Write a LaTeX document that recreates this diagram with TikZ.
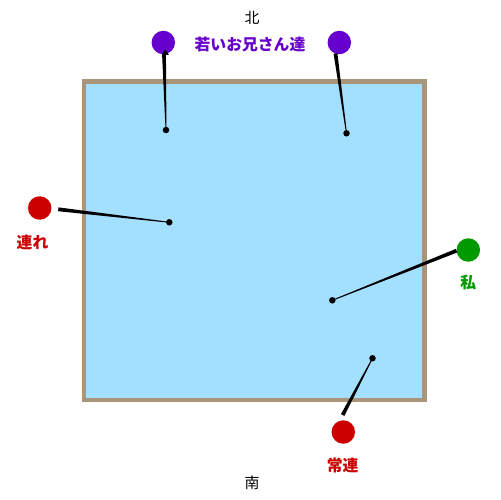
\documentclass[tikz,border=0pt]{standalone}
\usepackage{fontspec}
\newfontfamily\cjk{Noto Sans CJK JP}
\usetikzlibrary{calc}
\definecolor{poolfill}{HTML}{A3DFFF}
\definecolor{poolrim}{HTML}{A8957A}
\definecolor{ppl}{HTML}{6600CC}
\definecolor{rd}{HTML}{CC0000}
\definecolor{gr}{HTML}{009900}
\newcommand\taperline[2]{\fill ($(#1)!1.1pt!90:(#2)$) -- ($(#1)!1.1pt!-90:(#2)$) -- ($(#2)!0.25pt!90:(#1)$) -- ($(#2)!0.25pt!-90:(#1)$) -- cycle;}
\begin{document}
\begin{tikzpicture}[x=0.02cm,y=-0.02cm,
  person/.style={circle,fill=#1,inner sep=0pt,minimum size=0.47cm},
  spot/.style={circle,fill=black,inner sep=0pt,minimum size=0.13cm},
  lbl/.style={font=\cjk\bfseries\fontsize{9}{10}\selectfont,text=#1,inner sep=0pt},
  dir/.style={font=\cjk\fontsize{8.5}{10}\selectfont,inner sep=0pt}]
\useasboundingbox (0,0) rectangle (500,500);
\fill[white] (0,0) rectangle (500,500);
% pool
\draw[poolrim,fill=poolfill,line width=0.09cm] (84,81.5) rectangle (424.5,400);
% directions
\node[dir] (north) at (252,18) {北};
\node[dir] (south) at (252,483) {南};
% persons
\node[person=ppl] (pA) at (163.3,42.5) {};
\node[person=ppl] (pB) at (339.3,42.5) {};
\node[lbl=ppl] (lA) at (250,44.5) {若いお兄さん達};
\node[person=rd] (comp) at (39.7,208) {};
\node[lbl=rd] (lcomp) at (32.5,242) {連れ};
\node[person=gr] (me) at (468.3,250) {};
\node[lbl=gr] (lme) at (468.3,283) {私};
\node[person=rd] (reg) at (343.3,432) {};
\node[lbl=rd] (lreg) at (342.7,465.5) {常連};
% spots in the pool
\node[spot] (sA) at (166,130) {};
\node[spot] (sB) at (346.5,133.3) {};
\node[spot] (scomp) at (169.3,222.3) {};
\node[spot] (sme) at (332.3,300.3) {};
\node[spot] (sreg) at (372.5,358.3) {};
% line ends at the persons
\coordinate (eA) at (164,54);
\coordinate (eB) at (335.5,53.5);
\coordinate (ecomp) at (58.3,209.3);
\coordinate (eme) at (456.5,250.7);
\coordinate (ereg) at (342.7,415);
% lines
\taperline{eA}{sA.center}
\taperline{eB}{sB.center}
\taperline{ecomp}{scomp.center}
\taperline{eme}{sme.center}
\taperline{ereg}{sreg.center}
\fill (165.3,49.5) -- (161.8,54.8) -- (168.8,54.8) -- cycle;
\end{tikzpicture}
\end{document}
